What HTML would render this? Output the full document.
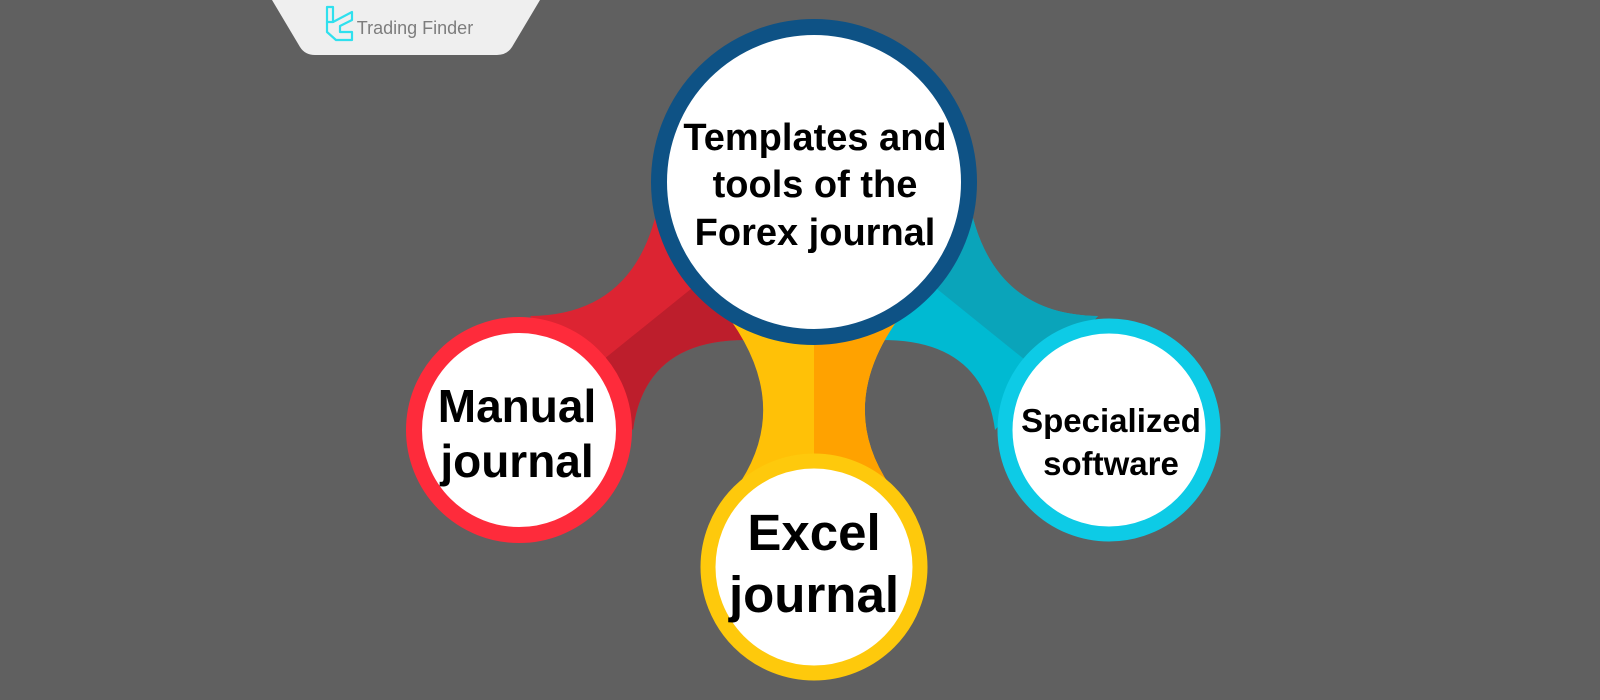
<!DOCTYPE html>
<html><head><meta charset="utf-8"><style>
html,body{margin:0;padding:0;background:#606060;}
svg{display:block;}
text{font-family:"Liberation Sans",Arial,sans-serif;font-weight:bold;fill:#000;text-anchor:middle;}
</style></head><body>
<svg width="1600" height="700" viewBox="0 0 1600 700" xmlns="http://www.w3.org/2000/svg">
<rect width="1600" height="700" fill="#606060"/>
<defs>
<clipPath id="redLow"><polygon points="500,443 800,201 900,700 500,700"/></clipPath>
<clipPath id="cyanUp"><polygon points="1128,443 828,201 828,0 1600,0 1600,443"/></clipPath>
<clipPath id="yelR"><rect x="814" y="0" width="400" height="700"/></clipPath>
</defs>
<!-- logo tab -->
<path d="M272,0 L540,0 L512,47 Q507,55 497,55 L315,55 Q305,55 300,47 Z" fill="#efefef"/>
<g fill="none" stroke="#2fe0ee" stroke-width="2.2" stroke-linejoin="round">
<path d="M327,7 L333,7 L333,22 L327,22 Z"/>
<path d="M333,22 L352,12 L352,20 L340,26 L340,32 L352,32 L352,40 L336,40 L327,32 L327,22"/>
</g>
<text x="415" y="34" style="font-weight:normal;font-size:18px;fill:#7d7d7d;">Trading Finder</text>

<!-- red connector -->
<path d="M530,316 Q640,315 660,195 L745,340 Q645,340 633,430 Z" fill="#dc2432"/>
<path d="M530,316 Q640,315 660,195 L745,340 Q645,340 633,430 Z" fill="#bd1e2c" clip-path="url(#redLow)"/>
<!-- cyan connector -->
<path d="M1098,316 Q988,315 968,195 L883,340 Q983,340 995,430 Z" fill="#00bad2"/>
<path d="M1098,316 Q988,315 968,195 L883,340 Q983,340 995,430 Z" fill="#0aa4ba" clip-path="url(#cyanUp)"/>
<!-- yellow connector -->
<path d="M715,300 Q800,400 735,490 L893,490 Q828,400 913,300 Z" fill="#ffc107"/>
<path d="M715,300 Q800,400 735,490 L893,490 Q828,400 913,300 Z" fill="#ffa200" clip-path="url(#yelR)"/>

<!-- circles -->
<circle cx="519" cy="430" r="105" fill="#fff" stroke="#fe2b3b" stroke-width="16"/>
<circle cx="1109" cy="430" r="104" fill="#fff" stroke="#0dcbe6" stroke-width="15"/>
<circle cx="814" cy="567" r="106" fill="#fff" stroke="#fec90c" stroke-width="15"/>
<circle cx="814" cy="182" r="155" fill="#fff" stroke="#0e5285" stroke-width="16"/>

<!-- labels -->
<text x="815" y="150" font-size="38">Templates and</text>
<text x="815" y="197" font-size="38">tools of the</text>
<text x="815" y="245" font-size="38">Forex journal</text>
<text x="517" y="422" font-size="46">Manual</text>
<text x="517" y="477" font-size="46">journal</text>
<text x="814" y="550" font-size="51">Excel</text>
<text x="814" y="612" font-size="51">journal</text>
<text x="1111" y="432" font-size="33">Specialized</text>
<text x="1111" y="475" font-size="33">software</text>
</svg>
</body></html>
